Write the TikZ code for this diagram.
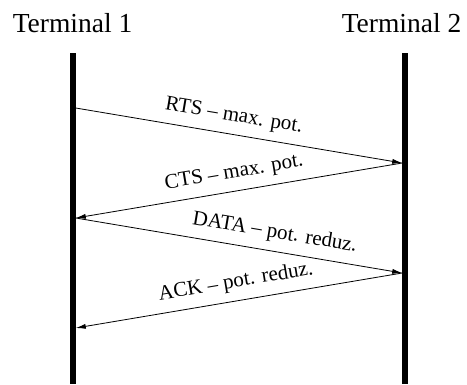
\documentclass[tikz,border=0pt]{standalone}
\usepackage{fontspec}
\setmainfont{Liberation Serif}
\usetikzlibrary{arrows.meta}
\begin{document}
\begin{tikzpicture}[x=1pt,y=-1pt,
  lifeline/.style={line width=5.5pt},
  msg/.style={line width=0.8pt,-{Latex[length=10pt,width=5pt]}},
  msglabel/.style={sloped,anchor=south,inner sep=0pt,above=8.5pt,font=\fontsize{21}{21}\selectfont},
  termlabel/.style={anchor=base,inner sep=0pt,font=\fontsize{27.5}{27.5}\selectfont}]
\useasboundingbox (0,0) rectangle (467,384);
\node[termlabel] (t1) at (72.5,32.3) {Terminal 1};
\node[termlabel] (t2) at (401.5,32.3) {Terminal 2};
\coordinate (l1top) at (73,53);
\coordinate (l1bot) at (73,384);
\coordinate (l2top) at (405,53);
\coordinate (l2bot) at (405,384);
\draw[lifeline] (l1top) -- (l1bot);
\draw[lifeline] (l2top) -- (l2bot);
\coordinate (a1) at (75.75,108);
\coordinate (b1) at (402.25,163);
\coordinate (a2) at (75.75,218);
\coordinate (b2) at (402.25,273);
\coordinate (a3) at (75.75,328);
\draw[msg] (a1) -- node[msglabel,pos=0.475] {RTS -- max. pot.} (b1);
\draw[msg] (b1) -- node[msglabel,pos=0.506] {CTS -- max. pot.} (a2);
\draw[msg] (a2) -- node[msglabel,pos=0.60] {DATA -- pot. reduz.} (b2);
\draw[msg] (b2) -- node[msglabel,pos=0.50] {ACK -- pot. reduz.} (a3);
\end{tikzpicture}
\end{document}
